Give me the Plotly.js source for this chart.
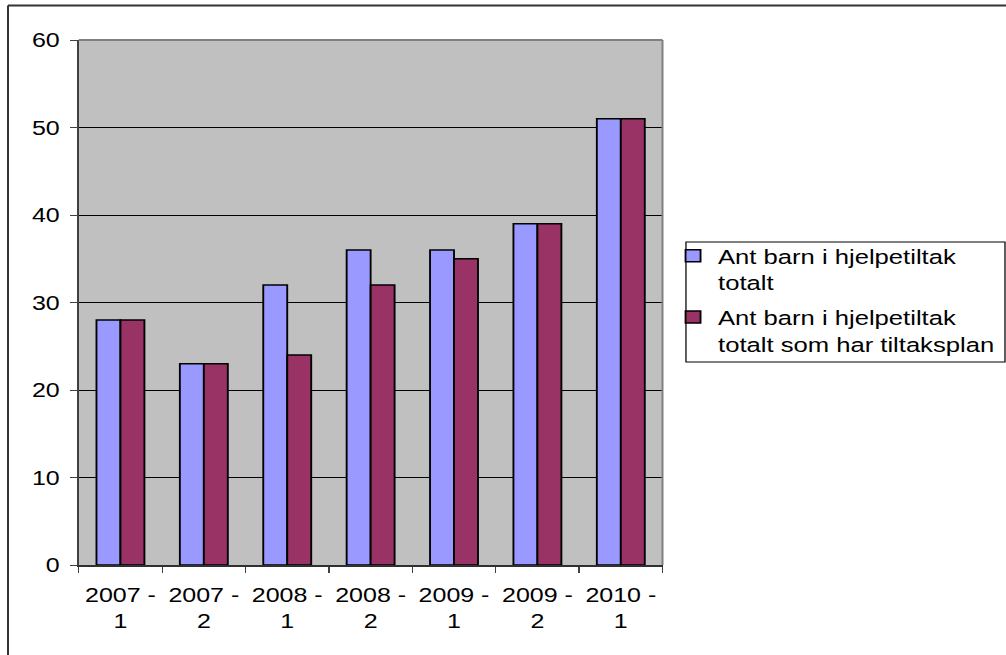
<!DOCTYPE html>
<html>
<head>
<meta charset="utf-8">
<script src="https://cdn.plot.ly/plotly-3.0.1.min.js"></script>
<style>
  html, body { margin: 0; padding: 0; background: #fff; overflow: hidden; }
  #chart { width: 805px; height: 655px; transform: scale(1.25, 1); transform-origin: 0 0; }
</style>
</head>
<body>
<div id="chart"></div>
<script>
// Data
const categories = ['2007 -<br>1', '2007 -<br>2', '2008 -<br>1', '2008 -<br>2', '2009 -<br>1', '2009 -<br>2', '2010 -<br>1'];
const seriesNames = ['Ant barn i hjelpetiltak<br>totalt', 'Ant barn i hjelpetiltak<br>totalt som har tiltaksplan'];
const totalt = [28, 23, 32, 36, 36, 39, 51];
const medPlan = [28, 23, 24, 32, 35, 39, 51];
const yTicks = [0, 10, 20, 30, 40, 50, 60];

const FONT = 'Liberation Sans, Arial, sans-serif';

const traces = [
  {
    type: 'bar', name: seriesNames[0], x: categories, y: totalt, legendgroup: 'a',
    marker: { color: '#9999FF', line: { color: '#000000', width: 1.5 } },
    hoverinfo: 'skip'
  },
  {
    type: 'bar', name: seriesNames[1], x: categories, y: medPlan, legendgroup: 'b',
    marker: { color: '#993366', line: { color: '#000000', width: 1.5 } },
    hoverinfo: 'skip'
  }
];

const layout = {
  width: 805, height: 655,
  margin: { l: 63, r: 275, t: 40, b: 90, pad: 0, autoexpand: false },
  paper_bgcolor: '#ffffff',
  plot_bgcolor: '#C0C0C0',
  font: { family: FONT, size: 20, color: '#000000' },
  barmode: 'group',
  bargap: 0.425,
  bargroupgap: 0,
  showlegend: true,
  legend: {
    x: 1.0095, xanchor: 'left',
    y: 0.627, yanchor: 'top',
    bgcolor: 'rgba(0,0,0,0)',
    borderwidth: 0,
    valign: 'top',
    tracegroupgap: 5,
    font: { family: FONT, size: 20.5, color: '#000000' },
    itemclick: false, itemdoubleclick: false
  },
  xaxis: {
    type: 'category',
    tickson: 'boundaries',
    tickangle: 0,
    automargin: false,
    ticks: 'outside', ticklen: 6, tickwidth: 1, tickcolor: '#404040',
    showline: true, linecolor: '#303030', linewidth: 1.5,
    showgrid: false, zeroline: false,
    tickfont: { family: FONT, size: 20, color: '#000000' },
    ticklabelstandoff: 12,
    fixedrange: true
  },
  yaxis: {
    range: [0, 60],
    automargin: false,
    tickmode: 'array', tickvals: yTicks, ticktext: yTicks.map(String),
    ticks: 'outside', ticklen: 5.6, tickwidth: 1, tickcolor: '#404040',
    showline: true, linecolor: '#404040', linewidth: 1.6,
    showgrid: true, gridcolor: '#000000', gridwidth: 1,
    zeroline: false,
    tickfont: { family: FONT, size: 20, color: '#000000' },
    ticklabelstandoff: 4,
    fixedrange: true
  },
  shapes: [
    // plot area top & right border (gray)
    { type: 'line', xref: 'paper', yref: 'paper', x0: 0, x1: 1, y0: 1, y1: 1, line: { color: '#808080', width: 2 }, layer: 'above' },
    { type: 'line', xref: 'paper', yref: 'paper', x0: 1, x1: 1, y0: 0, y1: 1, line: { color: '#808080', width: 1.6 }, layer: 'above' },
    // legend box
    { type: 'rect', xref: 'paper', yref: 'paper', x0: 1.0402, x1: 1.5867, y0: 0.3867, y1: 0.6152, line: { color: '#000000', width: 1 }, fillcolor: 'rgba(0,0,0,0)', layer: 'above' },
    // outer chart border (left & top)
    { type: 'line', xref: 'paper', yref: 'paper', x0: -0.1212, x1: -0.1212, y0: -0.3, y1: 1.0657, line: { color: '#333333', width: 1.6 }, layer: 'above' },
    { type: 'line', xref: 'paper', yref: 'paper', x0: -0.1212, x1: 1.7, y0: 1.0657, y1: 1.0657, line: { color: '#333333', width: 2 }, layer: 'above' }
  ]
};

Plotly.newPlot('chart', traces, layout, { displayModeBar: false, staticPlot: true });
</script>
</body>
</html>
